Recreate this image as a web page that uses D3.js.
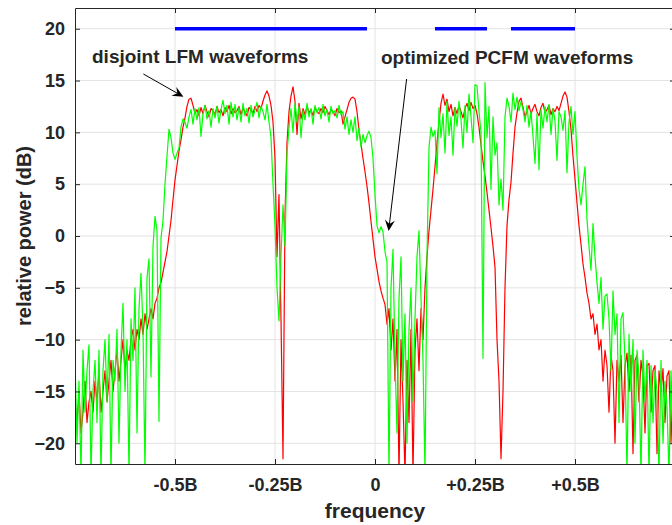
<!DOCTYPE html>
<html>
<head>
<meta charset="utf-8">
<script src="https://cdn.jsdelivr.net/npm/d3@7/dist/d3.min.js"></script>
<style>
body {margin:0; background:#fff;}
text {font-family:"Liberation Sans", Arial, sans-serif; font-weight:bold; fill:#262626;}
</style>
</head>
<body>
<svg></svg>
<script>
// frequency grid, in units of B
var fStart = -0.75, fStep = 0.005

// disjoint LFM waveforms (red), dB
var lfm = [
 -16,-18,-15,-19,-17,-14,-18,-16,-15,-17,
 -14,-16,-13,-17,-15,-13,-16,-14,-12,-15,
 -13,-11,-14,-12,-10,-13,-11,-12,-10,-9,
 -11,-9,-10,-8,-9.5,-7.5,-9,-8,-7,-8,
 -6.5,-6,-5,-4.5,-3.5,-2.5,-1.5,0,1.5,3.5,
 5.4,6.8,8.2,9.3,10.5,11.4,12.5,13.2,13.3,12.6,
 11.8,12.2,11.6,12.4,11.8,12.6,12.0,11.5,12.3,12.1,
 11.7,12.5,11.9,12.2,11.6,12.4,12.0,12.6,11.8,12.3,
 11.9,12.1,12.5,11.7,12.3,12.0,11.6,12.4,12.2,11.8,
 12.5,12.0,12.6,12.3,13.0,13.6,14.0,13.5,12.6,11.0,
 7.5,-2,4,-8,-21.5,2,9,12,13.5,14.4,
 13,9.8,12.8,11.3,12.3,11.7,12.5,11.9,12.2,11.6,
 12.4,12.0,11.8,12.3,11.9,12.5,12.1,11.7,12.2,12.0,
 11.6,12.3,11.9,12.1,10.8,11.5,12.2,12.9,13.3,13.4,
 13.2,12.0,10.2,8.9,7.5,6.2,4.8,3.2,1.4,-0.3,
 -2,-3.2,-4.4,-5.3,-6.0,-6.6,-8.5,-7,-11,-8,
 -14,-9,-23,-10,-16,-23,-12,-18,-9,-23,
 -11,-8,-13,-7,-10,-5,-2,0.5,2.5,4.5,
 6.7,9,11,12.8,13.7,12.6,13.2,12.0,12.7,11.6,
 12.4,11.8,12.6,12.0,11.4,12.3,12.8,12.1,12.9,12.3,
 12.6,11.8,10.5,8.8,7.2,5.8,4.2,2.5,0.8,-1,
 -3,-10,-14,-21.5,-15,-5,1,3.5,5.2,8,
 10.5,11.9,13.0,13.3,12.4,11.5,12.0,12.6,11.8,12.3,
 12.7,12.0,11.6,12.4,12.8,11.9,12.2,12.6,11.7,12.3,
 12.0,12.5,12.1,12.8,13.5,13.9,13.4,12.0,10.3,7.7,
 5.5,3.2,1,-0.8,-2.7,-4,-5.5,-6.5,-8,-7.5,
 -9.5,-8.5,-11,-10,-14,-11,-12.5,-17,-11.5,-13,
 -20,-12,-14,-11.5,-18,-12.5,-11.3,-15,-11.5,-21,
 -12,-11.5,-16,-12,-13.5,-19,-12.5,-12.3,-17,-13,
 -12.5,-21,-13,-15,-12.8,-18,-13.5,-13,-20,-14,
 -13.5
]

// optimized PCFM waveforms (green), dB
var pcfm = [
 -12,-20,-14,-23,-11,-17,-13,-10.5,-23,-15,
 -12,-18,-11,-23,-13,-10,-16,-9.5,-23,-12,
 -14,-9,-20,-11,-6.5,-15,-10,-23,-8,-12,
 -5,-19,-7,-3.6,-9,-23,-4,-2.2,-13.6,-1,
 1.9,0.5,-17.9,-0.2,1.5,5,7.7,10.3,9.5,8,
 7.4,8,8.5,10.5,11.3,11.0,10.4,11.5,12.2,10.8,
 12.3,11.2,12.4,9.6,11.8,12.6,11.3,12.1,10.5,12.3,
 11.4,12.5,10.9,12.2,13.1,11.8,12.6,10.8,12.9,11.5,
 12.7,11.2,12.4,11.0,12.8,11.6,12.3,10.9,12.6,11.5,
 12.2,12.9,11.4,12.5,12.0,11.2,12.7,11.0,9.5,5,
 1,-5,-8.2,-2,3,-1,8,10.5,12.3,10,
 12.8,11,12.5,9.5,12.1,11.2,12.8,11.5,12.3,10.8,
 12.6,11.9,12.4,11.3,12.7,11.6,12.2,11.0,12.5,11.8,
 12.1,11.4,12.6,11.7,12.0,10.3,11.5,9.8,11.2,10.0,
 11.5,9.2,10.4,8.6,9.8,9.0,9.7,10.1,9.5,7.5,
 4,1.0,0.3,0.9,0.4,-1.5,-2.5,-23,-5,-1.3,
 -12,-19,-6,-2,-14,-7.5,-20,-9,-5,-16,
 -8,-2,0.5,-6,-12,-23,-2,8.5,10.5,9.6,
 10.2,6,12.4,9.5,11.8,8.0,13,9.7,11.5,7.8,
 12.4,10.6,13.0,11.2,8.5,12.6,10.0,13.7,11.5,9.0,
 14.6,14.5,12.0,10.0,-11.8,14.8,9.5,12.5,4.5,11.5,
 7.8,9,3,5.5,2.5,11.5,13.3,12.5,11,13.8,
 12.2,13.4,12.1,13.0,12.2,11.0,12.6,10.5,12.0,9.6,
 7.0,11.8,6.4,12.2,10.4,12.5,11.0,12.7,9.8,12.3,
 11.1,7.3,12.0,11.5,10.2,12.1,6.1,11.0,12.5,9.8,
 12.0,7.7,4.5,3.0,5.0,6.7,1.6,-1,-3.3,1.2,
 -2,-4.5,-6.5,-4,-9,-5.8,-5.6,-8,-13,-5.3,
 -9.5,-7.5,-18,-8,-7.4,-12,-23,-9.5,-15,-10,
 -20,-11,-13.5,-23,-11,-16,-12,-23,-12.5,-18,
 -13,-15,-23,-12,-20,-14,-16.5,-23,-13,-19,
 -15
]

// blue band markers drawn at 20 dB
var bandStart = [-0.5, 0.15, 0.34]
var bandEnd = [-0.02, 0.28, 0.5]
var bandLevel = 20

var xTicks = [-0.5, -0.25, 0, 0.25, 0.5]
var xTickLabels = ["-0.5B", "-0.25B", "0", "+0.25B", "+0.5B"]
var yTicks = [-20, -15, -10, -5, 0, 5, 10, 15, 20]

var screen = {width: 672, height: 525}
var plot = {left: 75, right: 675, top: 8, bottom: 464}

var svg = d3.select("svg")
            .attr("width", screen.width)
            .attr("height", screen.height)

var xScale = d3.scaleLinear()
               .domain([-0.75, 0.75])
               .range([plot.left, plot.right])

var yScale = d3.scaleLinear()
               .domain([-22, 22])
               .range([plot.bottom, plot.top])

svg.append("defs").append("clipPath").attr("id", "clip")
   .append("rect")
   .attr("x", plot.left).attr("y", plot.top)
   .attr("width", plot.right - plot.left)
   .attr("height", plot.bottom - plot.top)

// grid
svg.append("g").selectAll("line.vg")
   .data(xTicks).enter().append("line")
   .attr("x1", function(d){return xScale(d)}).attr("x2", function(d){return xScale(d)})
   .attr("y1", plot.top).attr("y2", plot.bottom)
   .attr("stroke", "#e3e3e3").attr("stroke-width", 1)
svg.append("g").selectAll("line.hg")
   .data(yTicks).enter().append("line")
   .attr("y1", function(d){return yScale(d)}).attr("y2", function(d){return yScale(d)})
   .attr("x1", plot.left).attr("x2", plot.right)
   .attr("stroke", "#e3e3e3").attr("stroke-width", 1)

var line = d3.line()
             .x(function(d,i){return xScale(fStart + i*fStep)})
             .y(function(d){return yScale(d)})

var curves = svg.append("g").attr("clip-path", "url(#clip)")

curves.append("path")
      .datum(lfm)
      .attr("d", line)
      .attr("fill", "none")
      .attr("stroke", "#ff0000")
      .attr("stroke-width", 1.2)
      .attr("stroke-linejoin", "round")

curves.append("path")
      .datum(pcfm)
      .attr("d", line)
      .attr("fill", "none")
      .attr("stroke", "#00ff00")
      .attr("stroke-width", 1.2)
      .attr("stroke-linejoin", "round")

curves.selectAll("line.band")
      .data(bandStart).enter().append("line")
      .attr("x1", function(d){return xScale(d)})
      .attr("x2", function(d,i){return xScale(bandEnd[i])})
      .attr("y1", yScale(bandLevel)).attr("y2", yScale(bandLevel))
      .attr("stroke", "#0000ff")
      .attr("stroke-width", 3.5)

// axes, MATLAB style with inward ticks and a box
var yAxis = d3.axisLeft(yScale).tickValues(yTicks)
              .tickSizeInner(-5).tickSizeOuter(0).tickPadding(10)
var yAxisR = d3.axisRight(yScale).tickValues(yTicks)
               .tickSizeInner(-5).tickSizeOuter(0).tickFormat("")
var xAxis = d3.axisBottom(xScale).tickValues(xTicks)
              .tickSizeInner(-5).tickSizeOuter(0).tickPadding(14)
              .tickFormat(function(d,i){return xTickLabels[i]})
var xAxisT = d3.axisTop(xScale).tickValues(xTicks)
               .tickSizeInner(-5).tickSizeOuter(0).tickFormat("")

var gy = svg.append("g").attr("transform", "translate(" + plot.left + ",0)").call(yAxis)
var gyr = svg.append("g").attr("transform", "translate(" + plot.right + ",0)").call(yAxisR)
var gx = svg.append("g").attr("transform", "translate(0," + plot.bottom + ")").call(xAxis)
var gxt = svg.append("g").attr("transform", "translate(0," + plot.top + ")").call(xAxisT)

svg.selectAll(".domain, .tick line").attr("stroke", "#262626")
svg.selectAll(".tick text").attr("font-size", 18).attr("fill", "#262626")
   .attr("font-family", "'Liberation Sans', Arial, sans-serif").attr("font-weight", "bold")

svg.append("text")
   .attr("x", xScale(0)).attr("y", 518)
   .attr("text-anchor", "middle")
   .attr("font-size", 21)
   .text("frequency")

svg.append("text")
   .attr("transform", "translate(31," + yScale(0) + ") rotate(-90)")
   .attr("text-anchor", "middle")
   .attr("font-size", 20)
   .text("relative power (dB)")

// annotations
svg.append("text")
   .attr("x", xScale(-0.7075)).attr("y", yScale(16.69))
   .attr("font-size", 19)
   .text("disjoint LFM waveforms")
svg.append("text")
   .attr("x", xScale(0.015)).attr("y", yScale(16.6))
   .attr("font-size", 19)
   .text("optimized PCFM waveforms")

var arrows = [
  {f0: -0.579, v0: 15.63, f1: -0.479, v1: 13.44},
  {f0: 0.079, v0: 15.15, f1: 0.034, v1: 0.48}
]

arrows.forEach(function(a){
  var x0 = xScale(a.f0), y0 = yScale(a.v0), x1 = xScale(a.f1), y1 = yScale(a.v1)
  var ang = Math.atan2(y1 - y0, x1 - x0)
  var len = 11, wid = 5, back = 7
  var c = Math.cos(ang), s = Math.sin(ang)
  function pt(u, w){return [x1 - u*c - w*s, y1 - u*s + w*c]}
  var tail = pt(back, 0)
  svg.append("line")
     .attr("x1", x0).attr("y1", y0).attr("x2", tail[0]).attr("y2", tail[1])
     .attr("stroke", "#000").attr("stroke-width", 1)
  svg.append("path")
     .attr("d", "M" + [x1, y1] + "L" + pt(len, wid) + "L" + tail + "L" + pt(len, -wid) + "Z")
     .attr("fill", "#000")
})
</script>
</body>
</html>
